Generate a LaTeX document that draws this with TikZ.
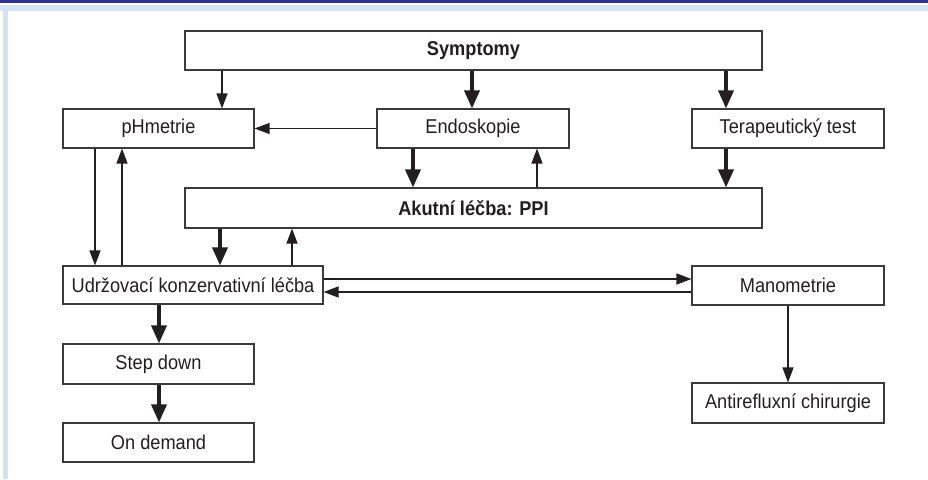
\documentclass[tikz,border=0pt]{standalone}
\usepackage{fontspec}
\setmainfont{Liberation Sans}[FakeStretch=0.91]
\usetikzlibrary{arrows.meta}
\definecolor{topbar}{HTML}{2E3192}
\definecolor{strip}{HTML}{D3E2F4}
\definecolor{ink}{HTML}{231F20}
\definecolor{edge}{HTML}{3A3A3A}
\tikzset{
  box/.style={draw=edge, line width=1.1pt, fill=white, inner sep=0pt, text=ink, font=\fontsize{20}{22}\selectfont},
  thin/.style={draw=ink, line width=1.2pt, -{Triangle[length=15pt,width=11pt]}},
  thick/.style={draw=ink, line width=3.5pt, -{Triangle[length=18pt,width=15pt]}}
}
\newcommand{\bx}[6]{\node[box, minimum width=#4-#2, minimum height=#5-#3] (#1) at ({(#2+#4)/2},{(#3+#5)/2}) {#6};}
\begin{document}
\begin{tikzpicture}[x=1pt,y=-1pt]
\useasboundingbox (0,0) rectangle (928,479);
\fill[white] (0,0) rectangle (928,479);
\fill[topbar] (0,0) rectangle (928,3);
\fill[strip] (0,5) rectangle (928,11);
\fill[strip] (3,5) rectangle (8,479);
\bx{sym}{185}{31}{762}{70}{\textbf{Symptomy}}
\bx{ph}{63}{109}{254}{148}{pHmetrie}
\bx{endo}{377}{109}{569}{148}{Endoskopie}
\bx{ter}{692}{109}{884}{148}{Terapeutický test}
\bx{akut}{185}{188}{762}{228}{\textbf{Akutní léčba: PPI}}
\bx{udr}{63}{266}{323}{304}{Udržovací konzervativní léčba}
\bx{step}{63}{344}{254}{384}{Step down}
\bx{ond}{63}{423}{254}{462}{On demand}
\bx{man}{692}{266}{884}{305}{Manometrie}
\bx{anti}{692}{383}{884}{423}{Antirefluxní chirurgie}
% arrows
\draw[thin] (sym.south -| 222,0) -- (ph.north -| 222,0);
\draw[thick] (sym.south -| 472,0) -- (endo.north -| 472,0);
\draw[thick] (sym.south -| 726,0) -- (ter.north -| 726,0);
\draw[thin] (endo.west) -- (ph.east);
\draw[thick] (endo.south -| 413,0) -- (akut.north -| 413,0);
\draw[thin] (akut.north -| 537,0) -- (endo.south -| 537,0);
\draw[thick] (ter.south -| 726,0) -- (akut.north -| 726,0);
\draw[thin] (ph.south -| 95,0) -- (udr.north -| 95,0);
\draw[thin] (udr.north -| 122,0) -- (ph.south -| 122,0);
\draw[thick] (akut.south -| 220,0) -- (udr.north -| 220,0);
\draw[thin] (udr.north -| 292,0) -- (akut.south -| 292,0);
\draw[thin] (udr.east |- 0,279) -- (man.west |- 0,279);
\draw[thin] (man.west |- 0,292) -- (udr.east |- 0,292);
\draw[thick] (udr.south -| 159,0) -- (step.north -| 159,0);
\draw[thick] (step.south -| 159,0) -- (ond.north -| 159,0);
\draw[thin] (man.south -| 788,0) -- (anti.north -| 788,0);
\end{tikzpicture}
\end{document}
